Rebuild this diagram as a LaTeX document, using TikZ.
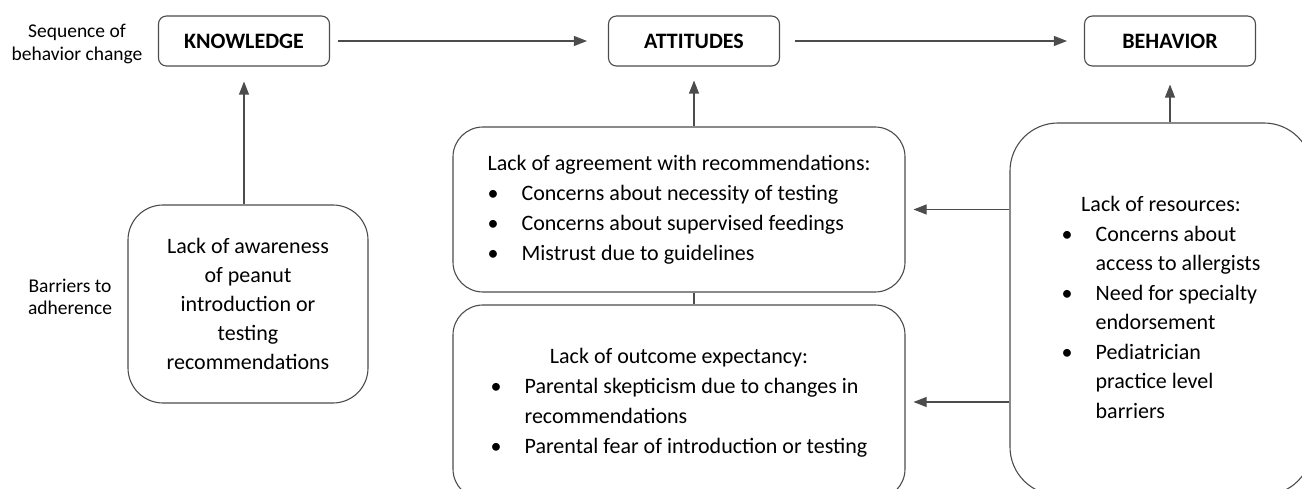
\documentclass[tikz,border=0pt]{standalone}
\usepackage{fontspec}
\setmainfont{Carlito}
\usepackage{array}
\usetikzlibrary{arrows.meta}
\begin{document}
\begin{tikzpicture}[x=1pt,y=-1pt,
  stage/.style={draw=black!70,line width=1.1pt,rounded corners=8pt,minimum width=171pt,minimum height=50pt,inner sep=0pt,font=\fontsize{22}{26}\selectfont\bfseries},
  barrier/.style={draw=black!70,line width=1.1pt,inner sep=0pt,font=\fontsize{22}{30}\selectfont},
  side/.style={align=center,font=\fontsize{19.5}{22.5}\selectfont},
  flow/.style={-{Triangle[length=13pt,width=10pt]},line width=1.1pt,draw=black!70}]
\useasboundingbox(0,0)rectangle(1302,489);
\clip(0,0)rectangle(1302,489);
\node[side](seq)at(77,44){Sequence of\\behavior change};
\node[side](bar)at(70,297){Barriers to\\adherence};
\node[stage](know)at(244,41){KNOWLEDGE};
\node[stage](att)at(694,41){ATTITUDES};
\node[stage](beh)at(1170,41){BEHAVIOR};
\node[barrier,rounded corners=35pt,minimum width=240pt,minimum height=198pt,align=center,font=\fontsize{22}{29}\selectfont](aware)at(248,304){Lack of awareness\\of peanut\\introduction or\\testing\\recommendations};
\node[barrier,rounded corners=30pt,minimum width=452pt,minimum height=165pt](agree)at(679,209.5){%
\begin{tabular}{@{}p{34pt}@{}l@{}}
\multicolumn{2}{@{}l@{}}{Lack of agreement with recommendations:}\\
\textbullet & Concerns about necessity of testing\\
\textbullet & Concerns about supervised feedings\\
\textbullet & Mistrust due to guidelines
\end{tabular}};
\node[barrier,rounded corners=30pt,minimum width=452pt,minimum height=194pt](outcome)at(679,402){%
\begin{tabular}{@{}p{34pt}@{}l@{}}
\multicolumn{2}{@{}c@{}}{Lack of outcome expectancy:}\\
\textbullet & Parental skepticism due to changes in\\
 & recommendations\\
\textbullet & Parental fear of introduction or testing
\end{tabular}};
\node[barrier,rounded corners=48pt,minimum width=302pt,minimum height=372pt,font=\fontsize{22}{29.5}\selectfont](resource)at(1161,309){%
\begin{tabular}{@{}p{34pt}@{}l@{}}
\multicolumn{2}{@{}c@{}}{Lack of resources:}\\
\textbullet & Concerns about\\
 & access to allergists\\
\textbullet & Need for specialty\\
 & endorsement\\
\textbullet & Pediatrician\\
 & practice level\\
 & barriers
\end{tabular}};
\draw[flow,shorten <=8pt,shorten >=21pt](know.east)--(att.west);
\draw[flow,shorten <=15pt,shorten >=17pt](att.east)--(beh.west);
\draw[flow,shorten >=15pt](aware.north -| know.south)--(know.south);
\draw[flow,shorten >=14pt](agree.north -| att.south)--(att.south);
\draw[flow,shorten >=18pt](resource.north -| beh.south)--(beh.south);
\draw[line width=1.1pt,draw=black!70](agree.south -| att.south)--(outcome.north -| att.south);
\draw[flow,shorten >=8pt](resource.west |- agree.east)--(agree.east);
\draw[flow,shorten >=8pt](resource.west |- outcome.east)--(outcome.east);
\end{tikzpicture}
\end{document}
